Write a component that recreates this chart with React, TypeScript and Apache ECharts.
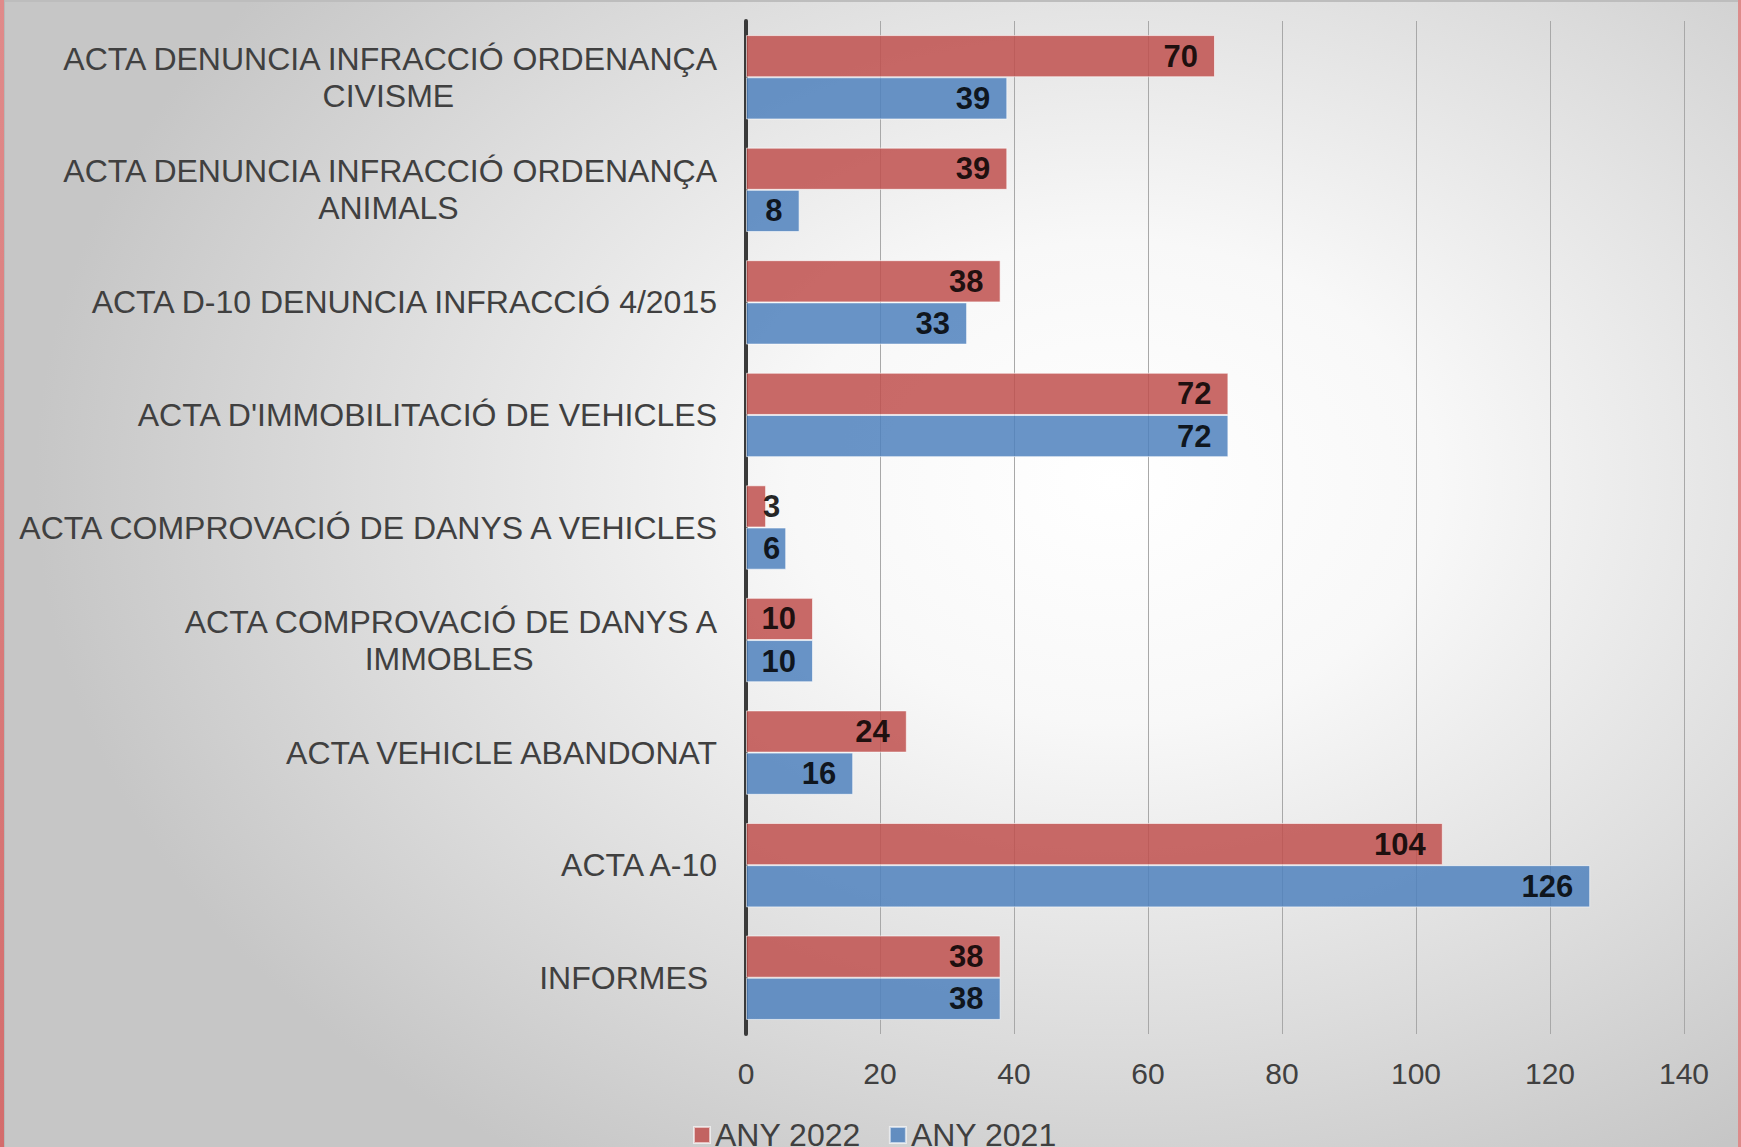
import React, { useEffect, useRef } from "react";
import * as echarts from "echarts";

const categories = [
  "ACTA DENUNCIA INFRACCIÓ ORDENANÇA\nCIVISME",
  "ACTA DENUNCIA INFRACCIÓ ORDENANÇA\nANIMALS",
  "ACTA D-10 DENUNCIA INFRACCIÓ 4/2015",
  "ACTA D'IMMOBILITACIÓ DE VEHICLES",
  "ACTA COMPROVACIÓ DE DANYS A VEHICLES",
  "ACTA COMPROVACIÓ DE DANYS A\nIMMOBLES",
  "ACTA VEHICLE ABANDONAT",
  "ACTA A-10",
  "INFORMES ",
];
const seriesNames = ["ANY 2022", "ANY 2021"];
const any2022 = [70, 39, 38, 72, 3, 10, 24, 104, 38];
const any2021 = [39, 8, 33, 72, 6, 10, 16, 126, 38];
const xTicks = { min: 0, max: 140, interval: 20 };

const FONT = "'Liberation Sans', Arial, sans-serif";
const TEXT = "#404040";

function toItems(values: number[]) {
  return values.map((v) =>
    v < 7 ? { value: v, label: { position: "insideLeft" } } : { value: v }
  );
}

export default function App() {
  const ref = useRef<HTMLDivElement>(null);
  useEffect(() => {
    document.body.style.margin = "0";
    if (!ref.current) return;
    const chart = echarts.init(ref.current, null, { renderer: "svg" });
    const barLabel = {
      show: true,
      position: "insideRight",
      distance: 17,
      color: "#000",
      fontWeight: "bold",
      fontSize: 31,
      fontFamily: FONT,
    };
    chart.setOption({
      animation: false,
      backgroundColor: "transparent",
      grid: { left: 746, right: 57, top: 21, bottom: 113, containLabel: false },
      legend: {
        data: seriesNames,
        left: 688,
        top: 1114,
        icon: "rect",
        itemWidth: 16,
        itemHeight: 16,
        itemGap: 28,
        textStyle: { fontSize: 32, fontFamily: FONT, color: TEXT },
      },
      xAxis: {
        type: "value",
        min: xTicks.min,
        max: xTicks.max,
        interval: xTicks.interval,
        axisLine: { show: false },
        axisTick: { show: false },
        splitLine: { show: true, lineStyle: { color: "#a8a8a8", width: 1 } },
        axisLabel: { fontSize: 30, fontFamily: FONT, color: TEXT, margin: 24 },
      },
      yAxis: {
        type: "category",
        inverse: true,
        data: categories,
        axisTick: { show: false },
        axisLine: { show: true, lineStyle: { color: "#3a3a3a", width: 4 } },
        axisLabel: {
          interval: 0,
          margin: 29,
          fontSize: 32,
          lineHeight: 37,
          fontFamily: FONT,
          color: TEXT,
          align: "right",
          formatter: (value: string) => {
            const parts = value.split("\n");
            if (parts.length === 1) return value;
            return parts[0] + "\n{c|" + parts[1] + "}";
          },
          rich: {
            c: {
              align: "center",
              fontSize: 32,
              lineHeight: 37,
              fontFamily: FONT,
              color: TEXT,
            },
          },
        },
      },
      series: [
        {
          name: seriesNames[0],
          type: "bar",
          data: toItems(any2022),
          barGap: "0%",
          barCategoryGap: "25%",
          itemStyle: {
            color: "#C0504D",
            opacity: 0.85,
            borderColor: "rgba(255,255,255,0.7)",
            borderWidth: 1,
          },
          label: barLabel,
        },
        {
          name: seriesNames[1],
          type: "bar",
          data: toItems(any2021),
          barGap: "0%",
          barCategoryGap: "25%",
          itemStyle: {
            color: "#4F81BD",
            opacity: 0.85,
            borderColor: "rgba(255,255,255,0.7)",
            borderWidth: 1,
          },
          label: barLabel,
        },
      ],
    });
    return () => chart.dispose();
  }, []);

  return (
    <div
      style={{
        position: "relative",
        width: 1741,
        height: 1147,
        overflow: "hidden",
        background:
          "radial-gradient(ellipse 62% 70% at 64% 42%, #ffffff 0%, #f8f8f8 30%, #dcdcdc 70%, #c6c6c6 100%)",
      }}
    >
      <div ref={ref} style={{ position: "absolute", left: 0, top: 0, width: 1741, height: 1147 }} />
      <div style={{ position: "absolute", left: 0, top: 0, width: 1741, height: 2, background: "#bdbdbd", pointerEvents: "none" }} />
      <div style={{ position: "absolute", left: 0, top: 0, width: 4, height: 1147, background: "linear-gradient(#e08a8a, #d46c6c)", pointerEvents: "none" }} />
      <div style={{ position: "absolute", left: 4, top: 0, width: 1, height: 1147, background: "#b8b8b8", pointerEvents: "none" }} />
      <div style={{ position: "absolute", left: 1738, top: 0, width: 3, height: 1147, background: "#de8a8a", pointerEvents: "none" }} />
    </div>
  );
}
